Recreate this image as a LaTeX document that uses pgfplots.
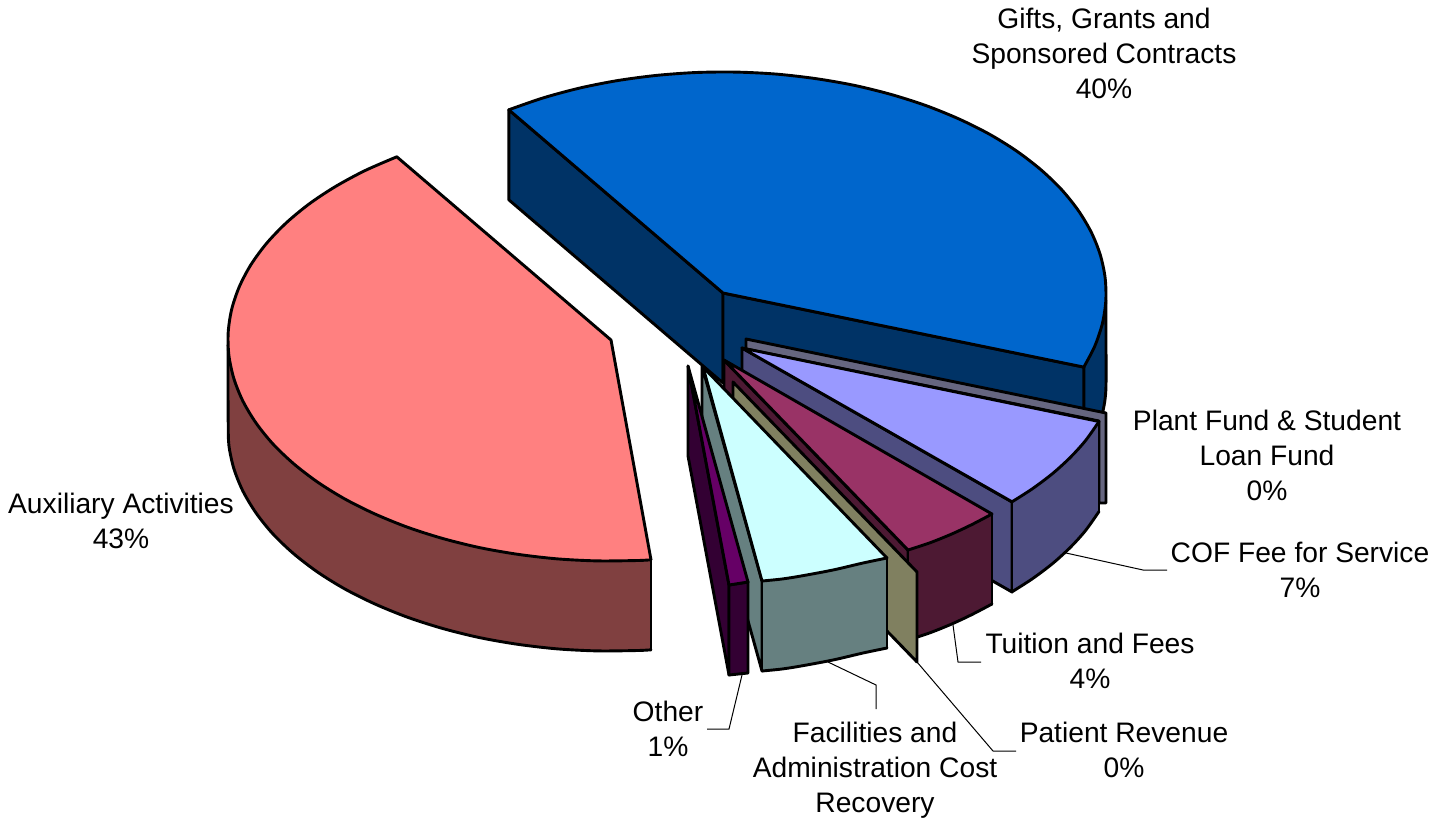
\documentclass[border=0pt]{standalone}
\usepackage{fontspec}
\setmainfont{Liberation Sans}
\usepackage{pgfplots}
\pgfplotsset{compat=1.18}
\definecolor{cblue}{HTML}{0066CC}
\definecolor{cnavy}{HTML}{003366}
\definecolor{csalm}{HTML}{FF8080}
\definecolor{cbrown}{HTML}{804040}
\definecolor{cperi}{HTML}{9999FF}
\definecolor{cslate}{HTML}{4D4D80}
\definecolor{cgrey}{HTML}{666680}
\definecolor{cmaroon}{HTML}{993366}
\definecolor{cdmar}{HTML}{4D1933}
\definecolor{ccyan}{HTML}{CCFFFF}
\definecolor{cteal}{HTML}{668080}
\definecolor{colive}{HTML}{808060}
\definecolor{cpurp}{HTML}{660066}
\definecolor{cdpur}{HTML}{330033}
\tikzset{face/.style={draw=black,line width=2.9pt,line join=round},
 area/.style={draw=none},
 edge/.style={draw=black,line width=2.9pt,line join=round,line cap=round},
 lead/.style={draw=black,line width=1pt},
 lab/.style={align=center,anchor=center,inner sep=0pt,font=\fontsize{28.2}{35}\selectfont}}
\begin{document}
\begin{tikzpicture}
\useasboundingbox (0,0) rectangle (1447pt,824pt);
\begin{axis}[at={(0,0)},anchor=south west,scale only axis,width=1447pt,height=824pt,
 xmin=0,xmax=1447,ymin=0,ymax=824,y dir=reverse,hide axis,clip=false]
% Auxiliary Activities: rim
\addplot[area,fill=cbrown] coordinates {(228,340)(228.9,355.4)(233.8,378.4)(242.8,400.9)(255.9,422.8)(272.8,443.8)(293.5,463.6)(317.6,482.1)(344.9,499.0)(375.2,514.1)(408.0,527.4)(443.1,538.6)(480.0,547.7)(518.4,554.4)(557.7,558.9)(597.6,560.9)(637.7,560.5)(651,559.8)
(651,649.8)(637.7,650.5)(597.6,650.9)(557.7,648.9)(518.4,644.4)(480.0,637.7)(443.1,628.6)(408.0,617.4)(375.2,604.1)(344.9,589.0)(317.6,572.1)(293.5,553.6)(272.8,533.8)(255.9,512.8)(242.8,490.9)(233.8,468.4)(228.9,445.4)(228.2,422.3)} --cycle;
\addplot[edge,smooth] coordinates {(228,345)(228,385)(228.2,422.3)(228.9,445.4)(233.8,468.4)(242.8,490.9)(255.9,512.8)(272.8,533.8)(293.5,553.6)(317.6,572.1)(344.9,589.0)(375.2,604.1)(408.0,617.4)(443.1,628.6)(480.0,637.7)(518.4,644.4)(557.7,648.9)(597.6,650.9)(637.7,650.5)(651,649.8)};
\addplot[edge] coordinates {(651,559.8)(651,649.8)};
% Auxiliary Activities: top
\addplot[area,fill=csalm] coordinates {(611,340)(396.8,156.8)(364.8,170.7)(335.5,186.5)(309.2,203.9)(286.2,222.9)(266.8,243.1)(251.1,264.4)(239.4,286.5)(231.7,309.2)(228.2,332.3)(228.9,355.4)(233.8,378.4)(242.8,400.9)(255.9,422.8)(272.8,443.8)(293.5,463.6)(317.6,482.1)(344.9,499.0)(375.2,514.1)(408.0,527.4)(443.1,538.6)(480.0,547.7)(518.4,554.4)(557.7,558.9)(597.6,560.9)(637.7,560.5)(651,559.8)} --cycle;
\addplot[edge,smooth] coordinates {(396.8,156.8)(364.8,170.7)(335.5,186.5)(309.2,203.9)(286.2,222.9)(266.8,243.1)(251.1,264.4)(239.4,286.5)(231.7,309.2)(228.2,332.3)(228.9,355.4)(233.8,378.4)(242.8,400.9)(255.9,422.8)(272.8,443.8)(293.5,463.6)(317.6,482.1)(344.9,499.0)(375.2,514.1)(408.0,527.4)(443.1,538.6)(480.0,547.7)(518.4,554.4)(557.7,558.9)(597.6,560.9)(637.7,560.5)(651,559.8)};
\addplot[edge] coordinates {(396.8,156.8)(611,340)(651,559.8)};
% Gifts, Grants: faces
\addplot[face,fill=cnavy] coordinates {(508.8,109.8)(723,293)(723,383)(508.8,199.8)} --cycle;
\addplot[area,fill=cnavy] coordinates {(1105.1,277.6)(1105.8,300.7)(1102.3,323.8)(1094.6,346.5)(1083.8,367.1)(1083.8,457.1)(1094.6,436.5)(1102.3,413.8)(1105.8,390.7)(1106,367)} --cycle;
\addplot[edge,smooth] coordinates {(1105.8,300.7)(1106,345)(1105.8,390.7)(1102.3,413.8)(1094.6,436.5)(1083.8,457.1)};
\addplot[face,fill=cnavy] coordinates {(723,293)(1083.8,367.1)(1083.8,457.1)(723,383)} --cycle;
% Gifts, Grants: top
\addplot[area,fill=cblue] coordinates {(723,293)(508.8,109.8)(543.2,97.9)(579.5,88.1)(617.4,80.6)(656.5,75.4)(696.3,72.5)(736.4,72.1)(776.3,74.1)(815.6,78.6)(854.0,85.3)(890.9,94.4)(926.0,105.6)(958.8,118.9)(989.1,134.0)(1016.4,150.9)(1040.5,169.4)(1061.2,189.2)(1078.1,210.2)(1091.2,232.1)(1100.2,254.6)(1105.1,277.6)(1105.8,300.7)(1102.3,323.8)(1094.6,346.5)(1083.8,367.1)} --cycle;
\addplot[edge,smooth] coordinates {(508.8,109.8)(543.2,97.9)(579.5,88.1)(617.4,80.6)(656.5,75.4)(696.3,72.5)(736.4,72.1)(776.3,74.1)(815.6,78.6)(854.0,85.3)(890.9,94.4)(926.0,105.6)(958.8,118.9)(989.1,134.0)(1016.4,150.9)(1040.5,169.4)(1061.2,189.2)(1078.1,210.2)(1091.2,232.1)(1100.2,254.6)(1105.1,277.6)(1105.8,300.7)(1102.3,323.8)(1094.6,346.5)(1083.8,367.1)};
\addplot[edge] coordinates {(508.8,109.8)(723,293)(1083.8,367.1)};
% Plant Fund
\addplot[face,fill=cgrey] coordinates {(746,339)(1106,413)(1106,503)(1099,503)(1099,421)(746,349)} --cycle;
% COF
\addplot[face,fill=cslate] coordinates {(742,348)(1012,502)(1012,592)(742,438)} --cycle;
\addplot[area,fill=cslate] coordinates {(1099,421.5)(1085.5,440.6)(1070.2,457.5)(1052.5,473.6)(1032.3,488.8)(1012,501.8)(1012,591.8)(1032.3,578.8)(1052.5,563.6)(1070.2,547.5)(1085.5,530.6)(1099,511.5)} --cycle;
\addplot[edge,smooth] coordinates {(1012,591.8)(1032.3,578.8)(1052.5,563.6)(1070.2,547.5)(1085.5,530.6)(1099,511.5)};
\addplot[edge] coordinates {(1099,421.5)(1099,511.5)};
\addplot[edge] coordinates {(1012,501.8)(1012,591.8)};
\addplot[area,fill=cperi] coordinates {(742,348)(1099,421.5)(1085.5,440.6)(1070.2,457.5)(1052.5,473.6)(1032.3,488.8)(1012,501.8)} --cycle;
\addplot[edge,smooth] coordinates {(1099,421.5)(1085.5,440.6)(1070.2,457.5)(1052.5,473.6)(1032.3,488.8)(1012,501.8)};
\addplot[edge] coordinates {(1099,421.5)(742,348)(1012,501.8)};
% Tuition
\addplot[face,fill=cdmar] coordinates {(724,360)(908,550)(908,640)(724,450)} --cycle;
\addplot[area,fill=cdmar] coordinates {(992,514)(972,524.5)(951.5,534.1)(929.9,542.8)(908,550)(908,640)(929.9,632.8)(951.5,624.1)(972,614.5)(992,604)} --cycle;
\addplot[edge,smooth] coordinates {(992,604)(972,614.5)(951.5,624.1)(929.9,632.8)(908,640)};
\addplot[edge] coordinates {(992,514)(992,604)};
\addplot[edge] coordinates {(908,550)(908,640)};
\addplot[area,fill=cmaroon] coordinates {(724,360)(992,514)(972,524.5)(951.5,534.1)(929.9,542.8)(908,550)} --cycle;
\addplot[edge,smooth] coordinates {(992,514)(972,524.5)(951.5,534.1)(929.9,542.8)(908,550)};
\addplot[edge] coordinates {(992,514)(724,360)(908,550)};
% Patient Revenue
\addplot[face,fill=colive] coordinates {(733,382)(917,572)(917,662)(733,472)} --cycle;
% Facilities
\addplot[face,fill=cteal] coordinates {(702,366)(762,581)(762,671)(702,456)} --cycle;
\addplot[area,fill=cteal] coordinates {(887,558)(863,563)(833,570)(801,576)(782,579)(762,581)(762,671)(782,669)(801,666)(833,660)(863,653)(887,648)} --cycle;
\addplot[edge,smooth] coordinates {(762,671)(782,669)(801,666)(833,660)(863,653)(887,648)};
\addplot[edge] coordinates {(887,558)(887,648)};
\addplot[edge] coordinates {(762,581)(762,671)};
\addplot[area,fill=ccyan] coordinates {(703,367)(887,558)(863,563)(833,570)(801,576)(782,579)(762,581)} --cycle;
\addplot[edge,smooth] coordinates {(887,558)(863,563)(833,570)(801,576)(782,579)(762,581)};
\addplot[edge] coordinates {(887,558)(703,367)(762,581)};
% Other
\addplot[face,fill=cdpur] coordinates {(688,366)(729,585)(729,675)(688,456)} --cycle;
\addplot[face,fill=cdpur] coordinates {(729,585)(748,582)(748,673)(729,675)} --cycle;
\addplot[face,fill=cpurp] coordinates {(688,366)(748,582)(729,585)} --cycle;
% Leader lines
\addplot[lead] coordinates {(1066,553)(1143,570)(1167,570)};
\addplot[lead] coordinates {(953,625)(958,662)(981,662)};
\addplot[lead] coordinates {(917,662)(993,751)(1016,751)};
\addplot[lead] coordinates {(828,662)(876,685)(876,709)};
\addplot[lead] coordinates {(742,675)(729,729)(707,729)};
% Labels
\node[lab] at (axis cs:1104,53) {Gifts, Grants and\\Sponsored Contracts\\40\%};
\node[lab] at (axis cs:1267,455) {Plant Fund \& Student\\Loan Fund\\0\%};
\node[lab] at (axis cs:1300,570) {COF Fee for Service\\7\%};
\node[lab] at (axis cs:1090,661) {Tuition and Fees\\4\%};
\node[lab] at (axis cs:1124,750) {Patient Revenue\\0\%};
\node[lab] at (axis cs:875,770) {Facilities and\\Administration Cost\\Recovery};
\node[lab] at (axis cs:668,729) {Other\\1\%};
\node[lab] at (axis cs:121,521) {Auxiliary Activities\\43\%};
\end{axis}
\end{tikzpicture}
\end{document}
